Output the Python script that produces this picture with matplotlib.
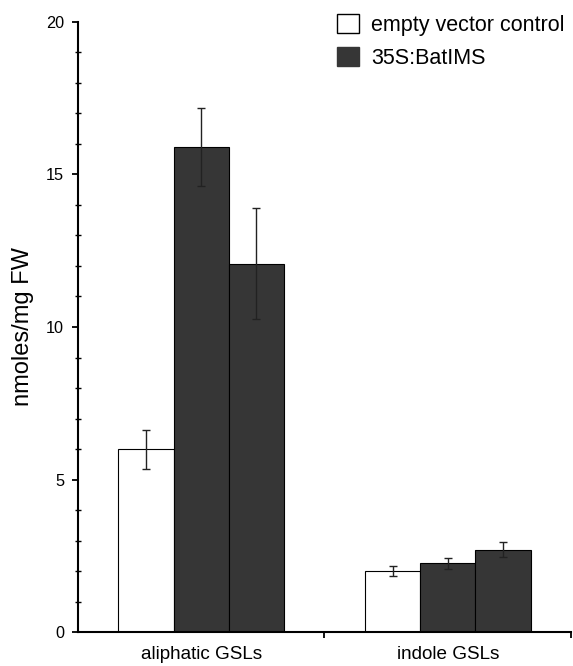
import matplotlib
matplotlib.use("Agg")
import matplotlib.pyplot as plt
import numpy as np
from matplotlib.patches import Patch
from matplotlib.ticker import MultipleLocator

plt.rcParams['font.family'] = ['Liberation Sans', 'DejaVu Sans']

# data
categories = ["aliphatic GSLs", "indole GSLs"]
control = [5.99, 2.02]
control_err = [0.64, 0.165]
line1 = [15.9, 2.26]
line1_err = [1.27, 0.18]
line2 = [12.07, 2.71]
line2_err = [1.82, 0.24]

dark = "#363636"
w = 0.224
centers = np.array([0.5, 1.5])

fig = plt.figure(figsize=(5.73, 6.66), dpi=100)
ax = fig.add_axes([0.1361, 0.0506, 0.8604, 0.9168])

errkw = dict(ecolor="#222222", elinewidth=1.0, capsize=3, capthick=1.0)
ax.bar(centers - w, control, w, yerr=control_err, color="white",
       edgecolor="black", linewidth=0.8, error_kw=errkw, zorder=2)
ax.bar(centers, line1, w, yerr=line1_err, color=dark,
       edgecolor="black", linewidth=0.8, error_kw=errkw, zorder=2)
ax.bar(centers + w, line2, w, yerr=line2_err, color=dark,
       edgecolor="black", linewidth=0.8, error_kw=errkw, zorder=2)

ax.set_xlim(0, 2)
ax.set_ylim(0, 20)

# axes styling
for s in ["top", "right"]:
    ax.spines[s].set_visible(False)
for s in ["left", "bottom"]:
    ax.spines[s].set_linewidth(1.5)
    ax.spines[s].set_zorder(3)

ax.set_yticks([0, 5, 10, 15, 20])
ax.yaxis.set_minor_locator(MultipleLocator(1))
ax.tick_params(axis="y", which="major", direction="out", length=4,
               width=1.3, pad=6, labelsize=11.7)
ax.tick_params(axis="y", which="minor", direction="inout", length=5,
               width=1.0)

# category labels under the groups, ticks at group borders
ax.set_xticks([1.0, 2.0])
ax.set_xticklabels([])
ax.tick_params(axis="x", which="major", direction="out", length=4.5,
               width=1.3)
for c, lab in zip(centers, categories):
    ax.text(c, -0.72, lab, ha="center", va="center", fontsize=13.6,
            transform=ax.transData)

ax.set_ylabel("nmoles/mg FW", fontsize=17)
ax.yaxis.set_label_coords(-0.09, 0.5)

handles = [Patch(facecolor="white", edgecolor="black", linewidth=1.0),
           Patch(facecolor=dark, edgecolor=dark, linewidth=1.0)]
fig.legend(handles, ["empty vector control", "35S:BatIMS"],
           loc="upper left", bbox_to_anchor=(337 / 573, 1 - 14 / 666),
           frameon=False, fontsize=15.5, handlelength=1.0,
           handleheight=1.0, handletextpad=0.6, labelspacing=0.5,
           borderpad=0, borderaxespad=0)

fig.savefig("out.png", dpi=100)
